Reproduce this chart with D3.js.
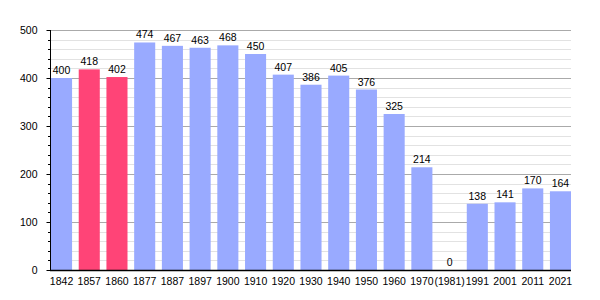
<!DOCTYPE html>
<html>
<head>
<meta charset="UTF-8">
<script src="https://d3js.org/d3.v7.min.js"></script>
<style>
  body { margin: 0; background: #fff; }
  svg text { font-family: "Liberation Sans", Arial, sans-serif; font-size: 10.5px; fill: #000; }
</style>
</head>
<body>
<div id="chart"></div>
<script>
  // anos do censo e população
  var anos = ["1842", "1857", "1860", "1877", "1887", "1897", "1900", "1910", "1920", "1930",
              "1940", "1950", "1960", "1970", "(1981)", "1991", "2001", "2011", "2021"];
  var populacao = [400, 418, 402, 474, 467, 463, 468, 450, 407, 386,
                   405, 376, 325, 214, 0, 138, 141, 170, 164];
  var destaque = ["1857", "1860"];
  var ticksY = [0, 100, 200, 300, 400, 500];
  var ticksMenores = d3.range(0, 501, 20);

  var larguraSVG = 600, alturaSVG = 300;
  var margin = {top: 30, right: 29, bottom: 30, left: 50},
      larguraVis = larguraSVG - margin.left - margin.right,
      alturaVis = alturaSVG - margin.top - margin.bottom;

  var svg = d3.select('#chart').append('svg')
      .attr('width', larguraSVG)
      .attr('height', alturaSVG);
  var grafico = svg.append('g')
      .attr('transform', 'translate(' + margin.left + ',' + margin.top + ')');

  var x = d3.scaleBand()
      .domain(anos)
      .range([1, larguraVis])
      .paddingInner(0.24)
      .paddingOuter(0);

  var y = d3.scaleLinear()
      .domain([0, 500])
      .range([alturaVis, 0]);

  // grade menor
  grafico.append('g').selectAll('line')
    .data(ticksMenores.filter(d => d % 100 != 0))
    .enter().append('line')
      .attr('x1', -2).attr('x2', larguraVis)
      .attr('y1', d => Math.round(y(d)) + 0.5).attr('y2', d => Math.round(y(d)) + 0.5)
      .attr('stroke', '#e2e2e2');

  // marcas menores no eixo
  grafico.append('g').selectAll('line')
    .data(ticksMenores.filter(d => d % 100 != 0))
    .enter().append('line')
      .attr('x1', -2).attr('x2', 0)
      .attr('y1', d => Math.round(y(d)) + 0.5).attr('y2', d => Math.round(y(d)) + 0.5)
      .attr('stroke', '#000');

  // grade maior
  grafico.append('g').selectAll('line')
    .data(ticksY.filter(d => d > 0))
    .enter().append('line')
      .attr('x1', 0).attr('x2', larguraVis)
      .attr('y1', d => Math.round(y(d)) + 0.5).attr('y2', d => Math.round(y(d)) + 0.5)
      .attr('stroke', '#aaa');

  grafico.selectAll('rect.barra')
    .data(anos)
    .enter().append('rect')
      .attr('class', 'barra')
      .attr('x', d => x(d))
      .attr('y', (d, i) => y(populacao[i]))
      .attr('width', x.bandwidth())
      .attr('height', (d, i) => alturaVis - y(populacao[i]))
      .attr('fill', d => destaque.indexOf(d) >= 0 ? '#ff4477' : '#99aaff');

  grafico.selectAll('text.valor')
    .data(anos)
    .enter().append('text')
      .attr('class', 'valor')
      .attr('x', d => x(d) + x.bandwidth() / 2)
      .attr('y', (d, i) => y(populacao[i]) - 4)
      .attr('text-anchor', 'middle')
      .text((d, i) => populacao[i]);

  // eixo y
  var eixoY = grafico.append('g')
      .attr('transform', 'translate(0.5,0)')
      .call(d3.axisLeft(y).tickValues(ticksY).tickSize(4).tickPadding(9));
  eixoY.select('.domain').attr('stroke', '#000').attr('d', 'M0,' + alturaVis + 'V0');
  eixoY.selectAll('text').style('font-size', '10.5px').style('font-family', '"Liberation Sans", Arial, sans-serif');

  // eixo x
  var eixoX = grafico.append('g')
      .attr('transform', 'translate(0,' + (alturaVis + 0.5) + ')')
      .call(d3.axisBottom(x).tickSize(0).tickPadding(7));
  eixoX.select('.domain').attr('stroke', '#000').attr('stroke-width', 1.5).attr('d', 'M0,0H' + larguraVis);
  eixoX.selectAll('text').style('font-size', '10.5px').style('font-family', '"Liberation Sans", Arial, sans-serif');
</script>
</body>
</html>
